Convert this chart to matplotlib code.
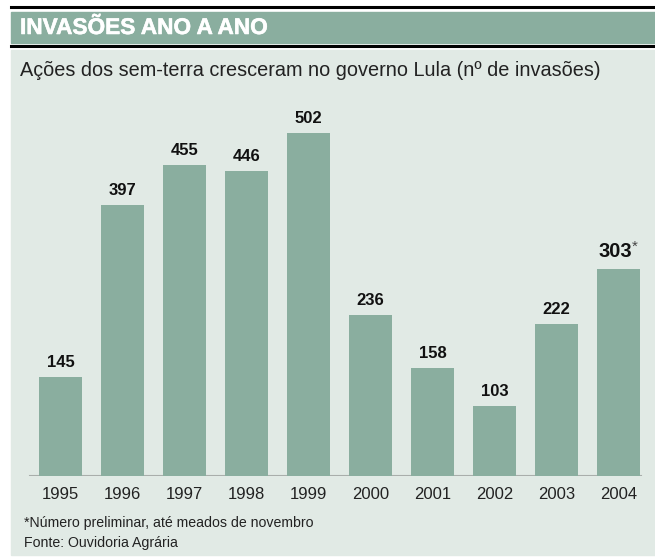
import matplotlib.pyplot as plt
import matplotlib.patheffects as pe
from matplotlib.patches import Rectangle
from matplotlib.lines import Line2D

years = ['1995', '1996', '1997', '1998', '1999', '2000', '2001', '2002', '2003', '2004']
invasions = [145, 397, 455, 446, 502, 236, 158, 103, 222, 303]

W, H = 655, 557
bar_color = '#8aae9f'
panel_color = '#e1eae5'
fam = ['Liberation Sans', 'DejaVu Sans']

fig = plt.figure(figsize=(W / 100, H / 100), dpi=100)
fig.patch.set_facecolor('white')


def fx(px):
    return px / W


def fy(py):
    return 1 - py / H


# frame: top rule, header band, second rule, light panel
fig.add_artist(Line2D([fx(11), 1], [fy(6.5), fy(6.5)], color='black', lw=2.2, transform=fig.transFigure))
fig.add_artist(Rectangle((fx(11), fy(43)), 1 - fx(11), fy(11.5) - fy(43), color=bar_color,
                         transform=fig.transFigure, zorder=0))
fig.add_artist(Line2D([fx(11), 1], [fy(46), fy(46)], color='black', lw=2.2, transform=fig.transFigure))
fig.add_artist(Rectangle((fx(11), fy(555)), 1 - fx(11), fy(49.5) - fy(555), color=panel_color,
                         transform=fig.transFigure, zorder=0))

fig.text(fx(20), fy(27.5), 'INVASÕES ANO A ANO', color='white', fontsize=16.3, fontweight='bold',
         family=fam, va='center', ha='left',
         path_effects=[pe.withStroke(linewidth=0.4, foreground='white')])
fig.text(fx(20), fy(70), 'Ações dos sem-terra cresceram no governo Lula (nº de invasões)',
         color='#222222', fontsize=14.3, family=fam, va='center', ha='left')

# bar axes
base_py, top_py = 476, 100
ax = fig.add_axes([0, fy(base_py), 1, fy(top_py) - fy(base_py)])
ax.patch.set_alpha(0)
x = list(range(len(years)))
ax.bar(x, invasions, width=0.69, color=bar_color, zorder=2)
ax.set_xlim(-60.5 / 62, (W - 60.5) / 62)
ax.set_ylim(0, (base_py - top_py) / 0.683)
ax.axhline(0, xmin=fx(30), xmax=fx(641), color='#a9aeab', lw=1.5, zorder=1)
for s in ax.spines.values():
    s.set_visible(False)
ax.set_yticks([])
ax.set_xticks(x)
ax.set_xticklabels(years, fontsize=12, color='#222222', family=fam)
ax.tick_params(axis='x', length=0, pad=8)

for i, v in enumerate(invasions):
    if years[i] == '2004':
        ax.annotate(str(v), (i, v), xytext=(-2.6, 5.5), textcoords='offset points', ha='center',
                    va='bottom', fontsize=14.5, fontweight='bold', color='#111111', family=fam)
        ax.annotate('*', (i, v), xytext=(9.8, 11), textcoords='offset points', ha='left',
                    va='bottom', fontsize=11, color='#444444', family=fam)
    else:
        ax.annotate(str(v), (i, v), xytext=(0, 5), textcoords='offset points', ha='center',
                    va='bottom', fontsize=12, fontweight='bold', color='#111111', family=fam)

fig.text(fx(24), fy(523), '*Número preliminar, até meados de novembro', fontsize=10.2,
         color='#222222', family=fam, va='center')
fig.text(fx(24), fy(543), 'Fonte: Ouvidoria Agrária', fontsize=10.2,
         color='#222222', family=fam, va='center')

fig.savefig('out.png', dpi=100)
